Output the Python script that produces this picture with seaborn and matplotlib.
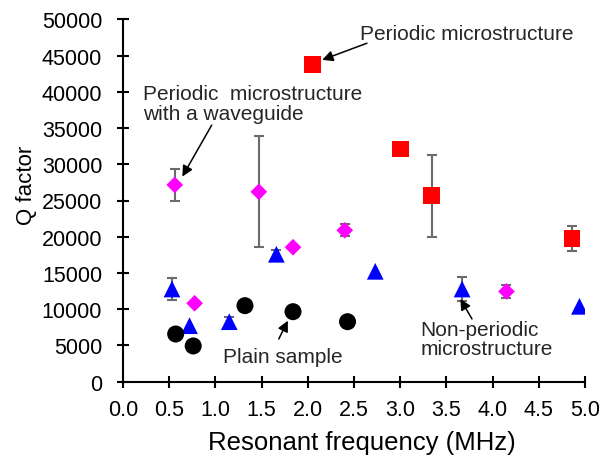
import matplotlib
matplotlib.use("Agg")
import matplotlib.pyplot as plt
import seaborn as sns
import pandas as pd

# ---- data ----
per_x = [2.05, 3.00, 3.34, 4.86]
per_q = [43800, 32100, 25650, 19790]
per_err = [0, 0, 5650, 1700]

wg_x = [0.56, 0.775, 1.47, 1.84, 2.40, 4.15]
wg_q = [27150, 10820, 26200, 18550, 20890, 12450]
wg_err = [2150, 0, 7650, 0, 800, 900]

np_x = [0.53, 0.72, 1.15, 1.66, 2.73, 3.67, 4.94]
np_q = [12790, 7730, 8280, 17580, 15230, 12790, 10400]
np_err = [1550, 0, 600, 640, 0, 1650, 0]

pl_x = [0.57, 0.76, 1.32, 1.84, 2.43]
pl_q = [6580, 4930, 10490, 9660, 8280]

x_ticks = [0.0, 0.5, 1.0, 1.5, 2.0, 2.5, 3.0, 3.5, 4.0, 4.5, 5.0]
y_ticks = [0, 5000, 10000, 15000, 20000, 25000, 30000, 35000, 40000, 45000, 50000]

sns.set_theme(style="white")
plt.rcParams['font.family'] = ['Liberation Sans', 'DejaVu Sans']

fig = plt.figure(figsize=(5.99, 4.60), dpi=100)
ax = fig.add_axes([123/599, 1 - 382.7/460, (585 - 123)/599, (382.7 - 20.3)/460])

ecol = '#6b6b6b'
def errs(x, q, e):
    xs = [a for a, b in zip(x, e) if b > 0]
    qs = [a for a, b in zip(q, e) if b > 0]
    es = [b for b in e if b > 0]
    ax.errorbar(xs, qs, yerr=es, fmt='none', ecolor=ecol, elinewidth=1.5,
                capsize=3.8, capthick=1.5, zorder=2)

errs(per_x, per_q, per_err)
errs(wg_x, wg_q, wg_err)
errs(np_x, np_q, np_err)

df_per = pd.DataFrame({'x': per_x, 'q': per_q})
df_wg = pd.DataFrame({'x': wg_x, 'q': wg_q})
df_np = pd.DataFrame({'x': np_x, 'q': np_q})
df_pl = pd.DataFrame({'x': pl_x, 'q': pl_q})

sns.scatterplot(data=df_per, x='x', y='q', marker='s', s=145, color='#ff0000',
                edgecolor='none', ax=ax, zorder=3)
sns.scatterplot(data=df_wg, x='x', y='q', marker='D', s=72, color='#ff00ff',
                edgecolor='none', ax=ax, zorder=3)
sns.scatterplot(data=df_np, x='x', y='q', marker='^', s=145, color='#0000ff',
                edgecolor='none', ax=ax, zorder=3)
sns.scatterplot(data=df_pl, x='x', y='q', marker='o', s=150, color='#000000',
                edgecolor='none', ax=ax, zorder=3)

ax.set_xlim(0, 5.0)
ax.set_ylim(0, 50000)
ax.set_xticks(x_ticks)
ax.set_xticklabels([f"{v:.1f}" for v in x_ticks])
ax.set_yticks(y_ticks)
ax.set_yticklabels([str(v) for v in y_ticks])
for s in ['top', 'right']:
    ax.spines[s].set_visible(False)
for s in ['left', 'bottom']:
    ax.spines[s].set_color('black')
    ax.spines[s].set_linewidth(1.5)
ax.tick_params(axis='both', direction='inout', length=9, width=1.5,
               color='black', labelsize=15.5, labelcolor='black',
               bottom=True, left=True)
ax.tick_params(axis='x', pad=8.0)
ax.tick_params(axis='y', pad=10.5)
ax.set_xlabel('Resonant frequency (MHz)', fontsize=18.5, color='black')
ax.xaxis.set_label_coords((362 - 123) / 462, (382.7 - 431) / 362.4)
ax.set_ylabel('Q factor', fontsize=16, color='black')
ax.yaxis.set_label_coords((37 - 123) / 462, (382.7 - 185) / 362.4)

ap = dict(arrowstyle='-|>', color='black', lw=1.1, mutation_scale=16,
          shrinkA=0, shrinkB=0)
fs = 15
ax.annotate('', xy=(2.156, 44400), xytext=(2.64, 46700), arrowprops=ap)
ax.text(2.57, 47980, 'Periodic microstructure', fontsize=fs, va='center', ha='left')

ax.annotate('', xy=(0.642, 28300), xytext=(0.96, 35400), arrowprops=ap)
ax.text(0.22, 38390, 'Periodic  microstructure\nwith a waveguide', fontsize=fs,
        va='center', ha='left', linespacing=1.1)

ax.annotate('', xy=(1.784, 8418), xytext=(1.686, 5893), arrowprops=ap)
ax.text(1.085, 3480, 'Plain sample', fontsize=fs, va='center', ha='left')

ax.annotate('', xy=(3.651, 11413), xytext=(3.777, 8653), arrowprops=ap)
ax.text(3.218, 5893, 'Non-periodic\nmicrostructure', fontsize=fs,
        va='center', ha='left', linespacing=1.05)

fig.savefig('out.png', dpi=100)
